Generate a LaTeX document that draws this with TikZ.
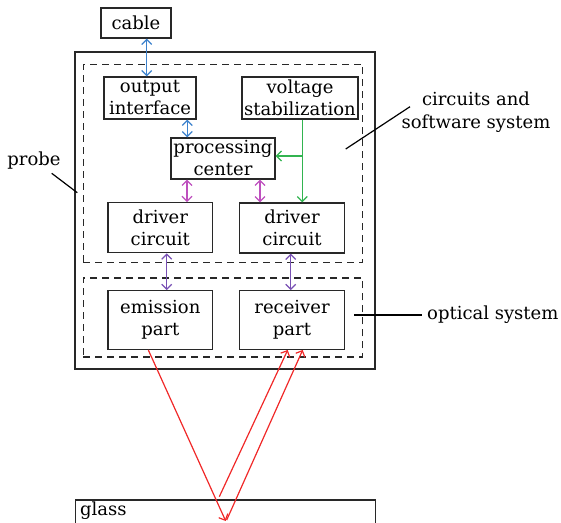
\documentclass[tikz,border=0pt]{standalone}
\usepackage{fontspec}
\setmainfont{DejaVu Serif}
\usetikzlibrary{arrows.meta,calc}
\definecolor{linkblue}{RGB}{60,130,205}
\definecolor{linkmag}{RGB}{190,80,190}
\definecolor{linkgreen}{RGB}{50,180,80}
\definecolor{linkpurple}{RGB}{120,80,180}
\definecolor{beamred}{RGB}{240,40,40}
\definecolor{inkgray}{RGB}{40,40,40}
\tikzset{
  unit/.style={draw=inkgray, line width=1.3pt, inner sep=0pt, align=center,
    font=\fontsize{18}{22}\selectfont},
  frame/.style={draw=inkgray, line width=1.3pt, inner sep=0pt},
  group/.style={draw=inkgray, line width=1.2pt, dash pattern=on 7pt off 5pt, inner sep=0pt},
  lbl/.style={inner sep=0pt, align=center, font=\fontsize{18}{22.5}\selectfont},
  leader/.style={draw=black, line width=1.2pt},
  link/.style={line width=1.2pt, arrows={Straight Barb[length=5pt,width=10pt]-Straight Barb[length=5pt,width=10pt]}},
  feed/.style={line width=1.2pt, -{Straight Barb[length=5pt,width=10pt]}},
}
\begin{document}
\begin{tikzpicture}[x=1pt,y=-1pt]
\useasboundingbox (0,0) rectangle (561,522);
\clip (0,0) rectangle (561,522);

% probe housing and its two subsystems
\node[frame, minimum width=300pt, minimum height=317pt] (probebox) at (225,210.5) {};
\node[group, minimum width=279.4pt, minimum height=198.4pt] (circgroup) at (223,163.5) {};
\node[group, minimum width=279.4pt, minimum height=79pt] (optgroup) at (223,317.5) {};

% functional blocks
\node[unit, minimum width=70pt, minimum height=30pt] (cable) at (136,23) {cable};
\node[unit, minimum width=92pt, minimum height=42pt] (outint) at (150,98) {output\\interface};
\node[unit, minimum width=116pt, minimum height=42pt] (volt) at (300,98) {voltage\\stabilization};
\node[unit, minimum width=104pt, minimum height=41pt] (proc) at (223,158.5) {processing\\center};
\node[unit, minimum width=104.7pt, minimum height=50pt] (drvL) at (160.3,227.7) {driver\\circuit};
\node[unit, minimum width=104.7pt, minimum height=50pt] (drvR) at (292,228) {driver\\circuit};
\node[unit, minimum width=104.7pt, minimum height=58.6pt] (emit) at (160.3,320) {emission\\part};
\node[unit, minimum width=104.7pt, minimum height=58.6pt] (recv) at (292,320) {receiver\\part};

% glass plate under the probe
\node[frame, anchor=north west, minimum width=300pt, minimum height=40pt] (glass) at (75,499.3) {};
\node[lbl, anchor=base west] (glasstext) at (80,515) {glass};

% side labels
\node[lbl] (probelbl) at (34,161) {probe};
\node[lbl] (circlbl) at (476,112) {circuits and\\software system};
\node[lbl, anchor=west] (optlbl) at (427,315) {optical system};

\coordinate (probeend) at (77.3,192.7);
\coordinate (probestart) at (51.7,173.3);
\coordinate (circstart) at (410,106.7);
\coordinate (circend) at (345.7,149);
\coordinate (optstart) at (421.7,315);
\coordinate (optend) at (354,315);
\draw[leader] (probestart) -- (probeend);
\draw[leader] (circstart) -- (circend);
\draw[leader] (optstart) -- (optend);

% signal links
\coordinate (bx1) at (146.7,0);
\coordinate (bx2) at (187.3,0);
\coordinate (mx1) at (187,0);
\coordinate (mx2) at (260,0);
\coordinate (px1) at (166.7,0);
\coordinate (px2) at (290.7,0);
\coordinate (gx) at (302.3,0);
\draw[link, linkblue] (cable.south -| bx1) -- (outint.north -| bx1);
\draw[link, linkblue] (outint.south -| bx2) -- (proc.north -| bx2);
\draw[link, linkmag] (proc.south -| mx1) -- (drvL.north -| mx1);
\draw[link, linkmag] (proc.south -| mx2) -- (drvR.north -| mx2);
\draw[link, linkpurple] (drvL.south -| px1) -- (emit.north -| px1);
\draw[link, linkpurple] (drvR.south -| px2) -- (recv.north -| px2);

% power feed from the stabilizer
\coordinate (gb) at (302.3,156);
\draw[feed, linkgreen] (volt.south -| gx) -- (drvR.north -| gx);
\draw[feed, linkgreen] (gb) -- (proc.east |- gb);

% optical beams reflected by the glass
\coordinate (hit) at (225.7,521);
\coordinate (bounce) at (219.3,496.7);
\coordinate (hit2) at (226.7,520);
\draw[feed, beamred] ([xshift=-12pt]emit.south) -- (hit);
\draw[feed, beamred] (bounce) -- ([xshift=-4.3pt]recv.south);
\draw[feed, beamred] (hit2) -- ([xshift=10.7pt]recv.south);
\end{tikzpicture}
\end{document}
